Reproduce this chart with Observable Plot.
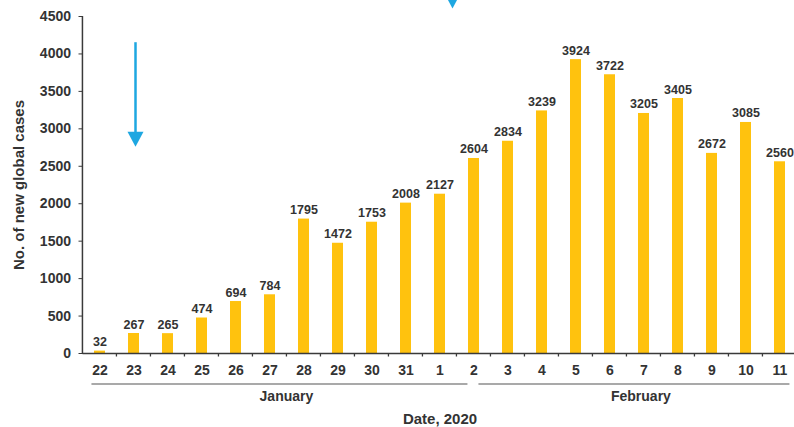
<!DOCTYPE html>
<html><head><meta charset="utf-8">
<script src="https://cdn.jsdelivr.net/npm/d3@7"></script>
<script src="https://cdn.jsdelivr.net/npm/@observablehq/plot@0.6"></script>
<style>
html,body{margin:0;padding:0;background:#fff;overflow:hidden;}
svg{max-width:none !important;}
</style></head><body><div id="chart"></div>
<script>
const days = ["22","23","24","25","26","27","28","29","30","31","1","2","3","4","5","6","7","8","9","10","11"];
const cases = [32,267,265,474,694,784,1795,1472,1753,2008,2127,2604,2834,3239,3924,3722,3205,3405,2672,3085,2560];
const yTicks = [0,500,1000,1500,2000,2500,3000,3500,4000,4500];
const monthLabels = ["January","February"];
const monthFrom = ["22","2"];
const monthTo = ["2","11"];
const xTitle = "Date, 2020";
const yTitle = "No. of new global cases";
const arrowDays = ["23","1"];
const arrowFrom = [4150, 5200];
const arrowTo = [2760, 4607];

const data = days.map((d,i)=>({day:d, cases:cases[i]}));
const arrows = arrowDays.map((d,i)=>({day:d, from:arrowFrom[i], to:arrowTo[i]}));
const ARROW_DX = [1.5, 12.5];

const FONT = "'Liberation Sans', Arial, sans-serif";
const TXT = "#333";
const BAR = "#FFC20E";
const BLUE = "#1EA7E1";

const downHead = {
  draw(ctx){ ctx.moveTo(-8,-15); ctx.lineTo(8,-15); ctx.lineTo(0,0); ctx.closePath(); }
};

const arrowMarks = arrows.flatMap((a,i)=>[
  Plot.ruleX([a], {x:"day", y1:"from", y2:"to", insetBottom:10, dx: ARROW_DX[i], stroke:BLUE, strokeWidth:2.5}),
  Plot.dot([a], {x:"day", y:"to", dx: ARROW_DX[i], symbol: downHead, fill:BLUE, stroke:"none", r: 8})
]);

const chart = Plot.plot({
  width: 797, height: 427,
  marginLeft: 82.5, marginRight: 0.5, marginTop: 16, marginBottom: 74,
  style: {fontFamily: FONT, color: TXT, background: "#fff", maxWidth: "none", overflow: "visible"},
  x: {domain: days, paddingInner: 0.68, paddingOuter: 0.34, label: null},
  y: {domain: [0,4500], label: null},
  marks: [
    Plot.barY(data, {x:"day", y:"cases", fill: BAR}),
    Plot.text(data, {x:"day", y:"cases", text: d=>String(d.cases), dy:-5, lineAnchor:"bottom", fontSize:12.5, fontWeight:"bold", fill:TXT}),
    Plot.ruleY([0], {stroke:"#3a3a3a", strokeWidth:1.5}),
    Plot.axisX({tickSize:0, tickPadding:12, fontSize:14, fontWeight:"bold", label:null}),
    Plot.axisY({ticks: yTicks, tickFormat: d=>String(d), tickSize:4, tickPadding:8, fontSize:14, fontWeight:"bold", label:null, stroke:"#3a3a3a"}),
    Plot.text([xTitle], {frameAnchor:"bottom", dy:70, lineAnchor:"bottom", fontSize:15, fontWeight:"bold", fill:TXT}),
    Plot.text([yTitle], {frameAnchor:"left", dx:-64, rotate:-90, textAnchor:"middle", lineAnchor:"middle", fontSize:15, fontWeight:"bold", fill:TXT}),
    ...arrowMarks
  ]
});
document.getElementById("chart").appendChild(chart);

// post-render annotations using Plot's scales
const svg = d3.select(chart);
const xs = chart.scale("x"), ys = chart.scale("y");
const step = xs.apply(days[1]) - xs.apply(days[0]);
const bw = step * (1 - 0.68);
const cx = d => xs.apply(d) + bw/2;
const y0 = ys.apply(0), yTop = ys.apply(4500);
const g = svg.append("g");
// y axis line
g.append("line").attr("x1", cx(days[0]) - step/2).attr("x2", cx(days[0]) - step/2)
  .attr("y1", yTop).attr("y2", y0 + 1).attr("stroke", "#3a3a3a").attr("stroke-width", 1.5);
// boundary ticks on x axis
days.forEach((d,i)=>{
  if (i === 0) return;
  const bx = cx(d) - step/2;
  g.append("line").attr("x1", bx).attr("x2", bx).attr("y1", y0).attr("y2", y0 + 3.5)
    .attr("stroke", "#3a3a3a").attr("stroke-width", 1.3);
});
// month brackets
monthLabels.forEach((m,i)=>{
  const f = monthFrom[i], t = monthTo[i];
  const x1 = f === days[0] ? cx(f) - 8 : cx(f) + 5;
  const x2 = t === days[days.length-1] ? cx(t) + 10 : cx(t) - 6;
  const yl = y0 + 31;
  g.append("line").attr("x1", x1).attr("x2", x2).attr("y1", yl).attr("y2", yl)
    .attr("stroke", "#555").attr("stroke-width", 1.2);
  g.append("text").attr("x", (x1 + x2)/2 + 7).attr("y", yl + 17)
    .attr("text-anchor", "middle").attr("font-family", FONT).attr("font-size", 14)
    .attr("font-weight", "bold").attr("fill", TXT).text(m);
});
</script></body></html>
